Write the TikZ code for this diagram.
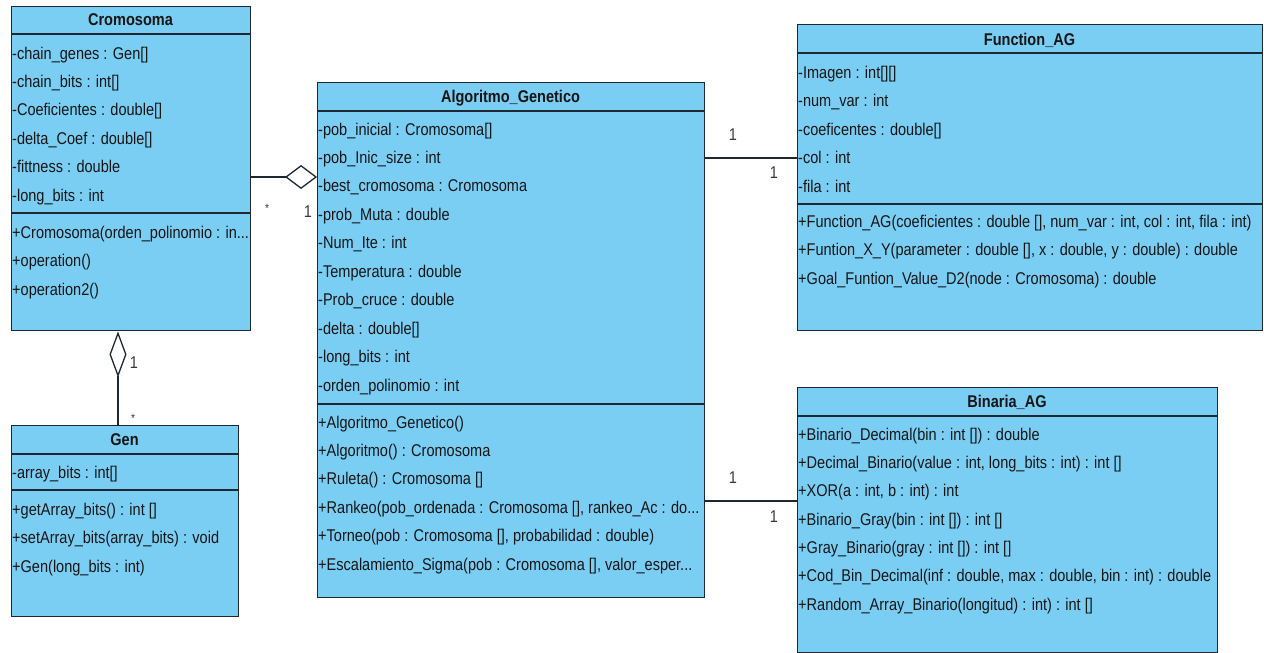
\documentclass[tikz,border=0pt]{standalone}
\usepackage{fontspec}
\setmainfont{Liberation Sans}[FakeStretch=0.855]
\usetikzlibrary{arrows.meta}
\definecolor{umlfill}{RGB}{122,206,244}
\definecolor{umlline}{RGB}{30,40,48}
\definecolor{umltext}{RGB}{22,22,22}
\newcommand{\eldots}{.{}.{}.}
\begin{document}
\begin{tikzpicture}[x=1pt,y=-1pt,
  classbox/.style={draw=umlline, fill=umlfill, line width=1.4pt, inner sep=0pt, anchor=north west},
  sepline/.style={draw=umlline, line width=1.4pt},
  member/.style={anchor=west, inner sep=0pt, text height=12pt, text depth=4pt, font=\fontsize{17}{19}\selectfont, text=umltext},
  classtitle/.style={inner sep=0pt, text height=12pt, text depth=4pt, font=\fontsize{17}{19}\selectfont\bfseries, text=umltext},
  mult/.style={inner sep=0pt, font=\fontsize{17}{19}\selectfont, text=umltext!85},
  multstar/.style={inner sep=0pt, font=\fontsize{12}{14}\selectfont, text=umltext!85},
  assoc/.style={draw=umlline, line width=1.3pt},
]
\useasboundingbox (0,0) rectangle (1264,653);

% ---------- Cromosoma ----------
\node[classbox, minimum width=239pt, minimum height=324pt] (crom) at (11,6) {};
\draw[sepline] (11,34) -- (250,34);
\draw[sepline] (11,213) -- (250,213);
\node[classtitle] (crom-t) at (130.5,21) {Cromosoma};
\foreach \t [count=\i] in {{-chain\_genes : Gen[]},{-chain\_bits : int[]},{-Coeficientes : double[]},{-delta\_Coef : double[]},{-fittness : double},{-long\_bits : int}}
  \node[member] (crom-a\i) at (12,{55+(\i-1)*28.4}) {\t};
\foreach \t [count=\i] in {{+Cromosoma(orden\_polinomio : in\eldots},{+operation()},{+operation2()}}
  \node[member] (crom-m\i) at (12,{234+(\i-1)*28.5}) {\t};

% ---------- Gen ----------
\node[classbox, minimum width=227pt, minimum height=191pt] (gen) at (11,425) {};
\draw[sepline] (11,454) -- (238,454);
\draw[sepline] (11,490) -- (238,490);
\node[classtitle] (gen-t) at (124.5,441) {Gen};
\node[member] (gen-a1) at (12,474) {-array\_bits : int[]};
\foreach \t [count=\i] in {{+getArray\_bits() : int []},{+setArray\_bits(array\_bits) : void},{+Gen(long\_bits : int)}}
  \node[member] (gen-m\i) at (12,{511+(\i-1)*28.5}) {\t};

% ---------- Algoritmo_Genetico ----------
\node[classbox, minimum width=387pt, minimum height=515pt] (alg) at (317,82) {};
\draw[sepline] (317,111) -- (704,111);
\draw[sepline] (317,404) -- (704,404);
\node[classtitle] (alg-t) at (510.5,98) {Algoritmo\_Genetico};
\foreach \t [count=\i] in {{-pob\_inicial : Cromosoma[]},{-pob\_Inic\_size : int},{-best\_cromosoma : Cromosoma},{-prob\_Muta : double},{-Num\_Ite : int},{-Temperatura : double},{-Prob\_cruce : double},{-delta : double[]},{-long\_bits : int},{-orden\_polinomio : int}}
  \node[member] (alg-a\i) at (318,{131+(\i-1)*28.45}) {\t};
\foreach \t [count=\i] in {{+Algoritmo\_Genetico()},{+Algoritmo() : Cromosoma},{+Ruleta() : Cromosoma []},{+Rankeo(pob\_ordenada : Cromosoma [], rankeo\_Ac : do\eldots},{+Torneo(pob : Cromosoma [], probabilidad : double)},{+Escalamiento\_Sigma(pob : Cromosoma [], valor\_esper\eldots}}
  \node[member] (alg-m\i) at (318,{424+(\i-1)*28.45}) {\t};

% ---------- Function_AG ----------
\node[classbox, minimum width=465pt, minimum height=306pt] (func) at (797,24) {};
\draw[sepline] (797,53) -- (1262,53);
\draw[sepline] (797,204) -- (1262,204);
\node[classtitle] (func-t) at (1029.5,41) {Function\_AG};
\foreach \t [count=\i] in {{-Imagen : int[][]},{-num\_var : int},{-coeficentes : double[]},{-col : int},{-fila : int}}
  \node[member] (func-a\i) at (798,{74+(\i-1)*28.5}) {\t};
\foreach \t [count=\i] in {{+Function\_AG(coeficientes : double [], num\_var : int, col : int, fila : int)},{+Funtion\_X\_Y(parameter : double [], x : double, y : double) : double},{+Goal\_Funtion\_Value\_D2(node : Cromosoma) : double}}
  \node[member] (func-m\i) at (798,{223+(\i-1)*28.8}) {\t};

% ---------- Binaria_AG ----------
\node[classbox, minimum width=420pt, minimum height=265pt] (bin) at (797,387) {};
\draw[sepline] (797,416) -- (1217,416);
\node[classtitle] (bin-t) at (1007,403) {Binaria\_AG};
\foreach \t [count=\i] in {{+Binario\_Decimal(bin : int []) : double},{+Decimal\_Binario(value : int, long\_bits : int) : int []},{+XOR(a : int, b : int) : int},{+Binario\_Gray(bin : int []) : int []},{+Gray\_Binario(gray : int []) : int []},{+Cod\_Bin\_Decimal(inf : double, max : double, bin : int) : double},{+Random\_Array\_Binario(longitud) : int) : int []}}
  \node[member] (bin-m\i) at (798,{436+(\i-1)*28.35}) {\t};

% ---------- connectors ----------
\coordinate (yCA) at (0,177);
\coordinate (xCG) at (118,0);
\coordinate (yAF) at (0,158);
\coordinate (yAB) at (0,501);

\draw[assoc, -{Diamond[open, length=32pt, width=24pt]}] (crom.east |- yCA) -- (alg.west |- yCA);
\draw[assoc, -{Diamond[open, length=46pt, width=17pt]}] (gen.north -| xCG) -- (crom.south -| xCG);
\draw[assoc] (alg.east |- yAF) -- (func.west |- yAF);
\draw[assoc] (alg.east |- yAB) -- (bin.west |- yAB);

% ---------- multiplicities ----------
\node[multstar] (m-ca1) at (267,208) {*};
\node[mult] (m-ca2) at (308,212) {1};
\node[mult] (m-cg1) at (134,363) {1};
\node[multstar] (m-cg2) at (133,418) {*};
\node[mult] (m-af1) at (733,135) {1};
\node[mult] (m-af2) at (774,173) {1};
\node[mult] (m-ab1) at (733,478) {1};
\node[mult] (m-ab2) at (774,517) {1};
\end{tikzpicture}
\end{document}
